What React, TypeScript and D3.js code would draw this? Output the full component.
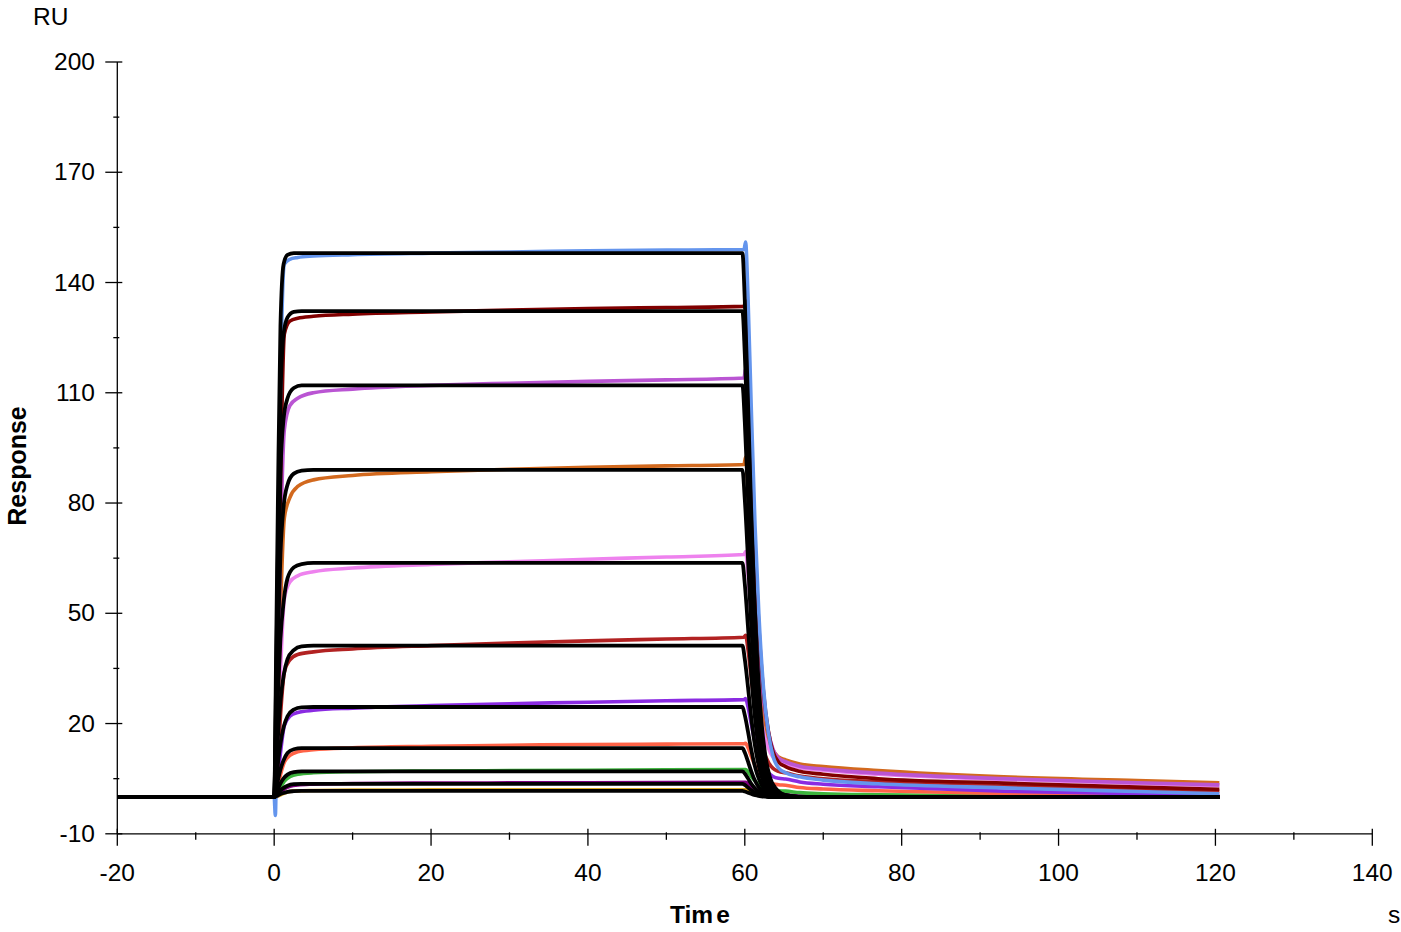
import React from "react";
import * as d3 from "d3";

// ---------- data ----------
const xTickValues = [-20, 0, 20, 40, 60, 80, 100, 120, 140];
const yTickValues = [-10, 20, 50, 80, 110, 140, 170, 200];

// fitted curves (black): shared time points
const fitTimes = [-20, 0, 0.25, 0.5, 0.8, 1.2, 1.7, 2.5, 3.5, 5, 59.7, 60.0, 60.4, 60.8, 61.2, 61.6, 62.1, 62.6, 63.2, 64.0, 65.2, 67.2, 120.5];
const fit1 = [0, 0, 40, 85, 128, 145, 147.5, 148, 148, 148, 148, 135, 108, 79, 55, 37, 21, 11.5, 5.4, 2.2, 0.5, 0, 0];
const fit2 = [0, 0, 32, 70, 108, 126, 130.5, 132, 132.2, 132.2, 132.2, 120.5, 96.5, 70.5, 49, 33, 18.7, 10.2, 4.8, 2, 0.5, 0, 0];
const fit3 = [0, 0, 26, 58, 88, 103, 108.5, 111.3, 112, 112, 112, 102, 81.8, 59.7, 41.5, 28, 15.9, 8.7, 4, 1.7, 0.4, 0, 0];
const fit4 = [0, 0, 20, 45, 66, 79, 85, 88, 88.8, 89, 89, 81, 65, 47.5, 33, 22.2, 12.6, 6.9, 3.2, 1.3, 0.3, 0, 0];
const fit5 = [0, 0, 13, 29, 43, 53, 59.5, 62.5, 63.4, 63.7, 63.7, 58, 46.5, 34, 23.6, 15.9, 9, 4.9, 2.3, 0.9, 0.2, 0, 0];
const fit6 = [0, 0, 8, 17, 26, 33, 37.5, 40, 41, 41.2, 41.2, 37.5, 30.1, 22, 15.3, 10.3, 5.8, 3.2, 1.5, 0.6, 0.1, 0, 0];
const fit7 = [0, 0, 4.5, 9.5, 14.5, 19, 22, 23.8, 24.4, 24.5, 24.5, 22.3, 17.9, 13.1, 9.1, 6.1, 3.5, 1.9, 0.9, 0.4, 0.1, 0, 0];
const fit8 = [0, 0, 2.3, 4.8, 7.5, 10, 12, 13, 13.3, 13.3, 13.3, 12.1, 9.7, 7.1, 4.9, 3.3, 1.9, 1.0, 0.5, 0.2, 0, 0, 0];
const fit9 = [0, 0, 1.1, 2.3, 3.7, 5.1, 6.1, 6.8, 7, 7, 7, 6.4, 5.1, 3.7, 2.6, 1.7, 1.0, 0.5, 0.2, 0.1, 0, 0, 0];
const fit10 = [0, 0, 0.5, 1.1, 1.8, 2.5, 3.1, 3.5, 3.6, 3.6, 3.6, 3.3, 2.6, 1.9, 1.3, 0.9, 0.5, 0.3, 0.1, 0, 0, 0, 0];
const fit11 = [0, 0, 0.2, 0.5, 0.8, 1.1, 1.4, 1.6, 1.7, 1.7, 1.7, 1.5, 1.2, 0.9, 0.6, 0.4, 0.2, 0.1, 0, 0, 0, 0, 0];

// measured curves (coloured): shared time points
const dataTimes = [-20, 0, 0.15, 0.4, 0.8, 1.3, 2, 3, 5, 10, 20, 30, 40, 50, 59.9, 60.1, 60.4, 60.8, 61.3, 61.8, 62.4, 63.0, 63.6, 64.3, 65.2, 67, 70, 77, 93, 110, 120.5];
const dataBlue = [0, 0, -5, 40, 110, 145, 146.3, 146.8, 147.2, 147.6, 148, 148.3, 148.6, 148.8, 149, 151, 136.5, 107.5, 74, 49.5, 29.2, 17.6, 11.1, 7.9, 6.6, 5.5, 4.6, 3.6, 2.5, 1.5, 0.9];
const dataMaroon = [0, 0, 0, 30, 85, 126, 129.5, 130.3, 130.8, 131.4, 132, 132.5, 132.9, 133.2, 133.5, 135, 122.3, 96.8, 67.6, 46, 28.2, 18, 12.3, 9.5, 8.3, 7.0, 6.2, 5.0, 3.8, 2.7, 2.1];
const dataOrchid = [0, 0, 0, 22, 68, 100, 106.5, 108.5, 110, 111, 112, 112.6, 113.1, 113.5, 114, 116.5, 105.8, 84.3, 59.6, 41.4, 26.4, 17.8, 13, 10.6, 9.6, 8.4, 7.6, 6.5, 5.0, 3.9, 3.3];
const dataOrange = [0, 0, 0, 16, 50, 76, 81.5, 84.5, 86.3, 87.5, 88.5, 89.2, 89.7, 90.1, 90.5, 92.5, 84.2, 67.7, 48.7, 34.6, 23, 16.4, 12.7, 10.9, 10.1, 9.0, 8.3, 7.2, 5.5, 4.5, 3.9];
const dataViolet = [0, 0, 0, 11, 34, 54, 58.5, 60.2, 61.3, 62.3, 63.3, 64, 64.7, 65.3, 66, 66.8, 61, 49.4, 36.1, 26.2, 18.1, 13.4, 10.8, 9.6, 9.0, 8.0, 7.3, 6.2, 4.8, 3.7, 3.1];
const dataBrick = [0, 0, 0, 7, 22, 34, 37.3, 38.8, 39.5, 40.3, 41.2, 41.9, 42.5, 43, 43.5, 44, 40.3, 32.8, 24.1, 17.8, 12.5, 9.5, 7.8, 7.0, 6.6, 5.7, 5.0, 4.2, 3.0, 2.1, 1.6];
const dataBlueViolet = [0, 0, 0, 4, 12, 19.5, 22, 23, 23.6, 24.2, 24.9, 25.4, 25.8, 26.2, 26.5, 26.8, 24.6, 20.2, 15.1, 11.4, 8.3, 6.6, 5.6, 5.1, 4.9, 4.1, 3.5, 2.8, 1.6, 0.9, 0.5];
const dataTomato = [0, 0, 0, 2, 6, 9.5, 11.3, 12.3, 12.9, 13.4, 13.8, 14.1, 14.3, 14.4, 14.5, 14.6, 13.5, 11.2, 8.6, 6.6, 5, 4.1, 3.6, 3.35, 3.2, 2.6, 2.2, 1.7, 1.0, 0.5, 0.2];
const dataGreen = [0, 0, 0, 0.8, 2.5, 4.3, 5.5, 6.2, 6.6, 6.9, 7.1, 7.2, 7.3, 7.4, 7.5, 7.5, 6.9, 5.7, 4.4, 3.4, 2.5, 2.1, 1.8, 1.7, 1.6, 1.2, 0.9, 0.6, 0.3, 0.1, 0];
const dataPurple = [0, 0, 0, 0.4, 1.2, 2.2, 2.9, 3.3, 3.5, 3.7, 3.8, 3.85, 3.9, 3.95, 4, 4, 3.7, 3.0, 2.2, 1.6, 1.1, 0.9, 0.7, 0.65, 0.6, 0.4, 0.3, 0.2, 0.1, 0, 0];
const dataGold = [0, 0, 0, 0.2, 0.6, 1.1, 1.5, 1.7, 1.8, 1.9, 1.95, 2, 2, 2, 2, 2, 1.8, 1.5, 1.1, 0.8, 0.6, 0.45, 0.35, 0.32, 0.3, 0.2, 0.1, 0, 0, 0, 0];

const dataSeries = [dataGold, dataPurple, dataGreen, dataTomato, dataBlueViolet, dataBrick, dataViolet, dataOrange, dataOrchid, dataMaroon, dataBlue];
const dataColors = ["#DAA520", "#800080", "#3CB43C", "#FF6347", "#8A2BE2", "#B22222", "#EE82EE", "#D2691E", "#BA55D3", "#800000", "#6495ED"];
const fitSeries = [fit11, fit10, fit9, fit8, fit7, fit6, fit5, fit4, fit3, fit2, fit1];

// ---------- chart ----------
const W = 1401;
const H = 932;

export default function App() {
  const x = d3.scaleLinear().domain([-20, 140]).range([117.3, 1372.3]);
  const y = d3.scaleLinear().domain([-10, 200]).range([833.8, 62]);

  const line = (times: number[]) =>
    d3
      .line<number>()
      .x((_, i) => x(times[i]))
      .y((v) => y(v))
      .curve(d3.curveMonotoneX);

  const dataLine = line(dataTimes);
  const fitLine = line(fitTimes);

  const xMinor = d3.range(-10, 140, 20);
  const yMinor = d3.range(5, 200, 30);
  const font = "'Liberation Sans', Arial, sans-serif";
  const axisX = x(-20);
  const axisY = y(-10);

  return (
    <svg
      width={W}
      height={H}
      style={{ position: "absolute", left: 0, top: 0, background: "#fff" }}
      fontFamily={font}
    >
      {/* axes */}
      <g stroke="#000" strokeWidth={1.3} fill="none">
        <line x1={axisX} x2={axisX} y1={y(200)} y2={axisY} />
        <line x1={axisX} x2={x(140)} y1={axisY} y2={axisY} />
        {yTickValues.map((t) => (
          <line key={"ym" + t} x1={axisX - 12} x2={axisX + 5} y1={y(t)} y2={y(t)} />
        ))}
        {yMinor.map((t) => (
          <line key={"yn" + t} x1={axisX - 4} x2={axisX + 2} y1={y(t)} y2={y(t)} />
        ))}
        {xTickValues.map((t) => (
          <line key={"xm" + t} x1={x(t)} x2={x(t)} y1={axisY - 5} y2={axisY + 12} />
        ))}
        {xMinor.map((t) => (
          <line key={"xn" + t} x1={x(t)} x2={x(t)} y1={axisY - 1.5} y2={axisY + 6} />
        ))}
      </g>
      <g fontSize={24.5} fill="#000">
        {yTickValues.map((t) => (
          <text key={"yl" + t} x={95} y={y(t) + 8} textAnchor="end">
            {t}
          </text>
        ))}
        {xTickValues.map((t) => (
          <text key={"xl" + t} x={x(t)} y={881} textAnchor="middle">
            {t}
          </text>
        ))}
        <text x={33} y={25}>RU</text>
        <text x={1388} y={923}>s</text>
        <text
          transform="translate(26,466) rotate(-90)"
          textAnchor="middle"
          fontWeight="bold"
          fontSize={25}
        >
          Response
        </text>
        <text x={670} y={923} fontWeight="bold">
          <tspan>Tim</tspan>
          <tspan dx={3}>e</tspan>
        </text>
      </g>

      {/* measured curves */}
      <g fill="none" strokeWidth={3.6} strokeLinejoin="round">
        {dataSeries.map((s, i) => (
          <path key={"d" + i} d={dataLine(s) || ""} stroke={dataColors[i]} />
        ))}
      </g>
      {/* fitted curves */}
      <g fill="none" strokeWidth={3.8} stroke="#000" strokeLinejoin="round">
        {fitSeries.map((s, i) => (
          <path key={"f" + i} d={fitLine(s) || ""} />
        ))}
      </g>
    </svg>
  );
}
